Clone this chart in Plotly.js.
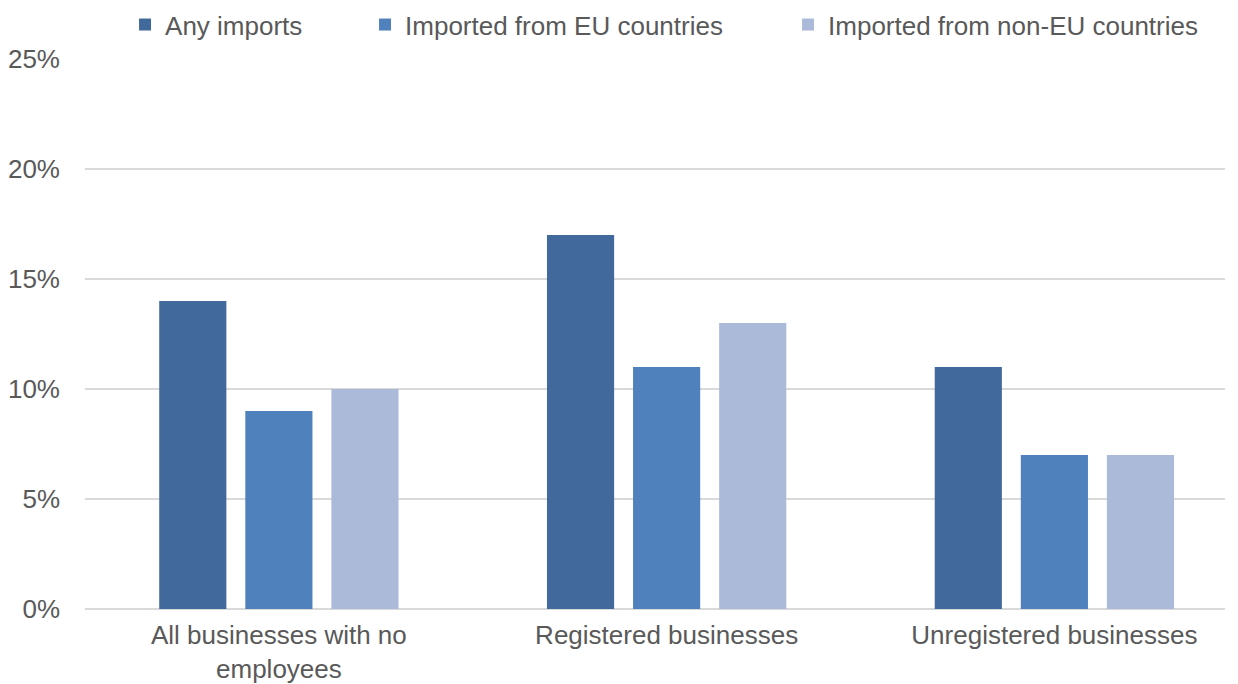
<!DOCTYPE html>
<html>
<head>
<meta charset="utf-8">
<script src="https://cdn.plot.ly/plotly-3.0.1.min.js"></script>
<style>html,body{margin:0;padding:0;background:#fff;}#chart{width:1238px;height:684px;}</style>
</head>
<body>
<div id="chart"></div>
<script>
const categories = ["All businesses with no<br>employees", "Registered businesses", "Unregistered businesses"];
const seriesNames = ["Any imports", "Imported from EU countries", "Imported from non-EU countries"];
const anyImports = [0.14, 0.17, 0.11];
const euImports = [0.09, 0.11, 0.07];
const nonEuImports = [0.10, 0.13, 0.07];
const tickVals = [0, 0.05, 0.10, 0.15, 0.20, 0.25];
const tickText = ["0%", "5%", "10%", "15%", "20%", "25%"];
const colors = ["#41699b", "#4f81bd", "#aabad8"];
const legendWidths = [195, 378, 380];

const values = [anyImports, euImports, nonEuImports];
const traces = values.map((v, i) => ({
  type: "bar",
  name: seriesNames[i],
  x: [0, 1, 2],
  y: v,
  legendwidth: legendWidths[i],
  marker: {color: colors[i]},
  hoverinfo: "skip"
}));

const layout = {
  width: 1238, height: 684,
  margin: {l: 85, r: 13, t: 59, b: 75, autoexpand: false},
  paper_bgcolor: "#fff", plot_bgcolor: "#fff",
  font: {family: "Liberation Sans, Arial, sans-serif", size: 26, color: "#595959"},
  barmode: "group",
  bargap: 0.334,
  bargroupgap: 0.22,
  showlegend: true,
  legend: {orientation: "h", xref: "container", yref: "container", x: 0.101, xanchor: "left",
           y: 0.964, yanchor: "middle", borderwidth: 0,
           font: {size: 26, color: "#595959"}, itemclick: false, itemdoubleclick: false},
  xaxis: {range: [-0.5, 2.44], tickvals: [0, 1, 2], ticktext: categories,
          showgrid: false, zeroline: false, showline: false, ticks: "", ticklabelstandoff: 8,
          tickfont: {size: 26, color: "#595959"}},
  yaxis: {range: [0, 0.25], tickvals: tickVals, ticktext: tickText, showgrid: true,
          gridcolor: "#d9d9d9", gridwidth: 2, zeroline: true, zerolinecolor: "#d9d9d9", zerolinewidth: 2,
          showline: false, ticks: "", ticklabelstandoff: 24,
          tickfont: {size: 26, color: "#595959"}}
};

Plotly.newPlot("chart", traces, layout, {displayModeBar: false, staticPlot: true});
</script>
</body>
</html>
